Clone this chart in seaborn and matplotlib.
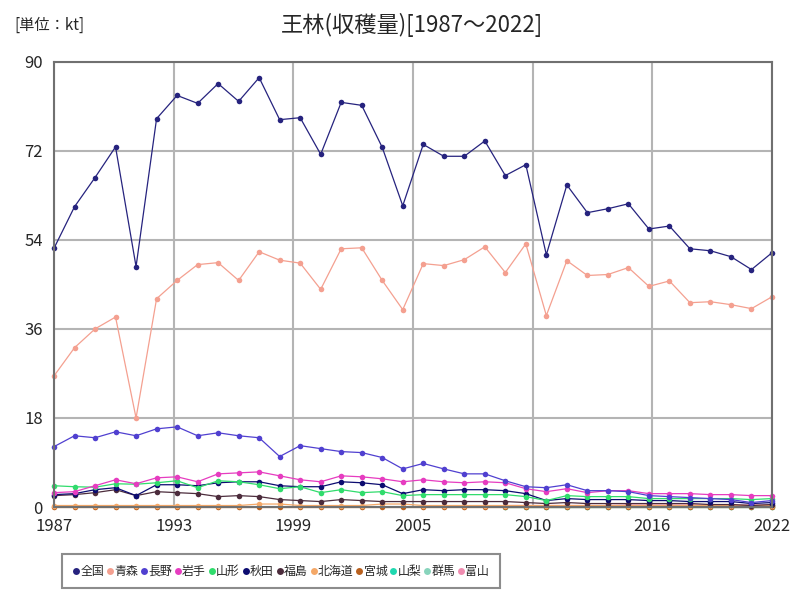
import numpy as np
import pandas as pd
import matplotlib.pyplot as plt
import seaborn as sns
from matplotlib.lines import Line2D

# data (kt), 1987-2022
years = list(range(1987, 2023))
nan = np.nan

zenkoku = [52.3, 60.7, 66.6, 72.8, 48.6, 78.5, 83.2, 81.6, 85.6, 82.0, 86.8, 78.3,
           78.7, 71.3, 81.8, 81.2, 72.7, 60.9, 73.3, 70.9, 70.9, 74.0, 67.0, 69.2,
           51.0, 65.1, 59.5, 60.3, 61.3, 56.2, 56.8, 52.2, 51.8, 50.6, 48.0, 51.4]
aomori = [26.5, 32.2, 36.0, 38.4, 18.0, 42.1, 45.8, 49.0, 49.4, 45.8, 51.6, 49.9,
          49.3, 44.0, 52.2, 52.4, 45.8, 39.9, 49.2, 48.8, 50.0, 52.6, 47.4, 53.2,
          38.7, 49.8, 46.8, 47.0, 48.4, 44.6, 45.7, 41.3, 41.5, 40.9, 40.1, 42.5]
nagano = [12.2, 14.4, 14.0, 15.2, 14.4, 15.8, 16.2, 14.4, 15.0, 14.4, 14.0, 10.2,
          12.4, 11.8, 11.2, 11.0, 10.0, 7.7, 8.8, 7.7, 6.7, 6.7, 5.3, 4.1,
          3.9, 4.5, 3.3, 3.3, 3.1, 2.3, 2.1, 1.9, 1.7, 1.5, 0.9, 1.3]
iwate = [2.9, 3.1, 4.3, 5.5, 4.7, 5.9, 6.1, 5.1, 6.7, 6.9, 7.1, 6.3,
         5.5, 5.1, 6.3, 6.1, 5.7, 5.1, 5.5, 5.1, 4.9, 5.1, 4.9, 3.7,
         3.1, 3.7, 2.9, 3.3, 3.3, 2.7, 2.7, 2.7, 2.5, 2.5, 2.3, 2.3]
yamagata = [4.3, 4.1, 4.0, 4.7, 4.6, 4.9, 5.3, 3.9, 5.3, 5.1, 4.5, 3.7,
            4.1, 2.9, 3.5, 2.9, 3.1, 2.3, 2.5, 2.5, 2.5, 2.5, 2.5, 2.1,
            1.3, 2.3, 2.1, 2.1, 2.1, 1.7, 1.7, 1.7, 1.7, 1.7, 1.5, 1.7]
akita = [2.5, 2.7, 3.5, 3.9, 2.3, 4.5, 4.5, 4.3, 4.9, 5.1, 5.1, 4.3,
         4.1, 4.1, 5.1, 4.9, 4.5, 2.7, 3.5, 3.3, 3.5, 3.5, 3.3, 2.7,
         1.3, 1.7, 1.5, 1.5, 1.5, 1.3, 1.3, 1.1, 1.1, 1.1, 0.7, 0.9]
fukushima = [2.3, 2.5, 2.9, 3.5, 2.3, 3.1, 2.9, 2.7, 2.1, 2.3, 2.1, 1.5,
             1.3, 1.1, 1.5, 1.3, 1.1, 1.1, 1.1, 1.1, 1.1, 1.1, 1.1, 0.9,
             0.7, 0.9, 0.7, 0.7, 0.7, 0.7, 0.7, 0.7, 0.5, 0.5, 0.3, 0.5]
hokkaido = [0.3, 0.3, 0.3, 0.3, 0.3, 0.3, 0.3, 0.3, 0.3, 0.3, 0.6, 0.6,
            0.3, 0.3, 0.3, 0.3, 0.6, 0.6, 0.3, 0.3, 0.3, 0.3, 0.3, 0.3,
            0.3, 0.3, 0.3, 0.3, 0.3, 0.3, 0.3, 0.3, 0.3, 0.3, 0.3, 0.3]
miyagi = [0.1] * 36
yamanashi = [nan] * 22 + [0.1] * 14
gunma = [nan] * 22 + [0.2] * 14
toyama = [nan] * 22 + [0.3, 0.3, 0.3, 0.3, 0.3, 0.3, 0.4, 0.4, 0.4, 0.4, 0.4, 0.4, 0.4, 0.4]

names = ['全国', '青森', '長野', '岩手', '山形', '秋田', '福島', '北海道', '宮城', '山梨', '群馬', '富山']
series = [zenkoku, aomori, nagano, iwate, yamagata, akita, fukushima, hokkaido, miyagi, yamanashi, gunma, toyama]
colors = ['#26237e', '#f4a090', '#5040d0', '#e63cc0', '#30dc6c', '#0c0c70',
          '#4c2c3c', '#f4a868', '#b8601e', '#20d8b0', '#88d4bc', '#f08cb0']

rows = []
for n, vals in zip(names, series):
    for y, v in zip(years, vals):
        rows.append({'year': y, 'pref': n, 'value': v})
df = pd.DataFrame(rows).dropna()

sns.set_style('white')
plt.rcParams['font.family'] = ['Noto Sans CJK JP', 'DejaVu Sans']

fig = plt.figure(figsize=(8, 6), dpi=100)
ax = fig.add_axes([0.0675, 0.155, 0.8975, 0.742])

# draw small series first so national/aomori stay on top
for n in names[::-1]:
    sub = df[df.pref == n]
    sns.lineplot(data=sub, x='year', y='value', color=colors[names.index(n)],
                 marker='o', markersize=4, markeredgewidth=0, linewidth=0.9,
                 ax=ax, legend=False, clip_on=False)

ax.set_xlim(1987, 2022)
ax.set_ylim(0, 90)
xt = [1987 + 35 * k / 6 for k in range(7)]
ax.set_xticks(xt)
ax.set_xticklabels(['1987', '1993', '1999', '2005', '2010', '2016', '2022'], fontsize=12)
ax.set_yticks([0, 18, 36, 54, 72, 90])
ax.set_yticklabels(['0', '18', '36', '54', '72', '90'], fontsize=12)
ax.tick_params(length=0, pad=8)
ax.grid(True, color='#b4b4b4', linewidth=1.5)
ax.set_axisbelow(True)
for s in ax.spines.values():
    s.set_color('#707070')
    s.set_linewidth(1.5)
ax.set_xlabel('')
ax.set_ylabel('')

fig.text(0.515, 0.958, '王林(収穫量)[1987～2022]', ha='center', va='center', fontsize=16)
fig.text(0.018, 0.958, '[単位：kt]', ha='left', va='center', fontsize=11)

handles = [Line2D([], [], linestyle='none', marker='o', markersize=5,
                  markerfacecolor=c, markeredgewidth=0) for c in colors]
leg = fig.legend(handles, names, loc='center', bbox_to_anchor=(0.351, 0.048),
                 ncol=12, fontsize=8.6, handletextpad=0.05, columnspacing=0.2,
                 handlelength=0.6, frameon=True, fancybox=False, borderpad=0.9)
leg.get_frame().set_edgecolor('#707070')
leg.get_frame().set_linewidth(1.5)

fig.savefig('out.png', dpi=100)
